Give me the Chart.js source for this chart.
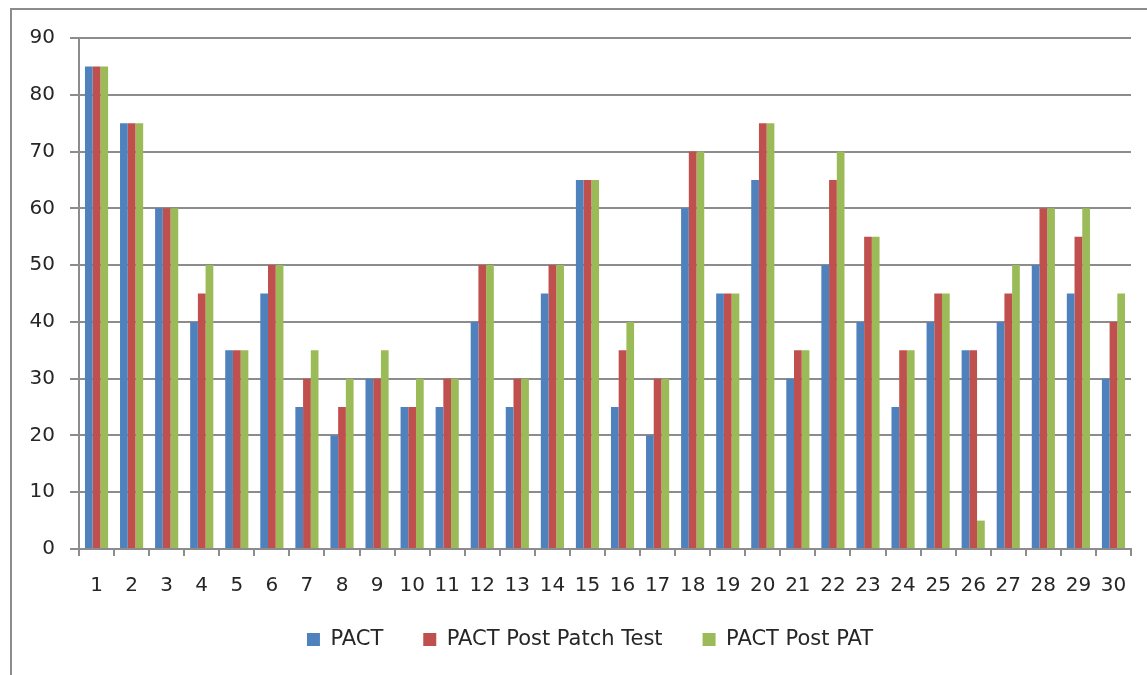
<!DOCTYPE html>
<html lang="en">
  <head>
    <meta charset="UTF-8" />
    <title>PACT</title>
    <script src="https://cdn.jsdelivr.net/npm/chart.js@4.4.1/dist/chart.umd.min.js"></script>
    <style>
      html, body {
        margin: 0;
        padding: 0;
        background: #fff;
        overflow: hidden;
      }
      #frame {
        position: absolute;
        left: 10px;
        top: 8px;
        width: 1200px;
        height: 700px;
        border-left: 2px solid #8c8c8c;
        border-top: 2px solid #8c8c8c;
      }
      #chart {
        position: absolute;
        left: 0;
        top: 0;
      }
    </style>
  </head>
  <body>
    <div id="frame"></div>
    <canvas id="chart" width="1147" height="675"></canvas>

    <script>
      const categories = [
        "1", "2", "3", "4", "5", "6", "7", "8", "9", "10",
        "11", "12", "13", "14", "15", "16", "17", "18", "19", "20",
        "21", "22", "23", "24", "25", "26", "27", "28", "29", "30",
      ];
      const pact = [
        85, 75, 60, 40, 35, 45, 25, 20, 30, 25,
        25, 40, 25, 45, 65, 25, 20, 60, 45, 65,
        30, 50, 40, 25, 40, 35, 40, 50, 45, 30,
      ];
      const pactPatchTest = [
        85, 75, 60, 45, 35, 50, 30, 25, 30, 25,
        30, 50, 30, 50, 65, 35, 30, 70, 45, 75,
        35, 65, 55, 35, 45, 35, 45, 60, 55, 40,
      ];
      const pactPostPat = [
        85, 75, 60, 50, 35, 50, 35, 30, 35, 30,
        30, 50, 30, 50, 65, 40, 30, 70, 45, 75,
        35, 70, 55, 35, 45, 5, 50, 60, 60, 45,
      ];

      const gridGray = "#8c8c8c";
      const textColor = "#262626";
      const fontFamily = "'DejaVu Sans', Arial, sans-serif";

      // legend sits a little right of the plot centre and a bit higher up
      const legendShift = {
        id: "legendShift",
        afterLayout(chart) {
          chart.legend.left += 49;
          chart.legend.top -= 10;
        },
      };

      new Chart(document.getElementById("chart").getContext("2d"), {
        type: "bar",
        data: {
          labels: categories,
          datasets: [
            { label: "PACT", data: pact, backgroundColor: "#4F81BD" },
            { label: "PACT Post Patch Test", data: pactPatchTest, backgroundColor: "#C0504D" },
            { label: "PACT Post PAT", data: pactPostPat, backgroundColor: "#9BBB59" },
          ],
        },
        plugins: [legendShift],
        options: {
          responsive: false,
          animation: false,
          datasets: {
            bar: { categoryPercentage: 0.66, barPercentage: 1.0, borderWidth: 0 },
          },
          layout: {
            padding: { left: 0, right: 16, top: 38, bottom: 5 },
          },
          plugins: {
            tooltip: { enabled: false },
            legend: {
              position: "bottom",
              labels: {
                boxWidth: 13,
                boxHeight: 13,
                padding: 40,
                color: textColor,
                font: { family: fontFamily, size: 21 },
              },
            },
          },
          scales: {
            x: {
              grid: {
                offset: true,
                drawOnChartArea: false,
                drawTicks: true,
                tickLength: 7,
                color: gridGray,
                lineWidth: 2,
              },
              border: { color: gridGray, width: 2 },
              ticks: {
                color: textColor,
                padding: 18,
                maxRotation: 0,
                autoSkip: false,
                font: { family: fontFamily, size: 20 },
              },
              afterFit(scale) {
                scale.height = 50;
              },
            },
            y: {
              min: 0,
              max: 90,
              grid: {
                color: gridGray,
                lineWidth: 2,
                tickLength: 9,
              },
              border: { color: gridGray, width: 2 },
              ticks: {
                stepSize: 10,
                color: textColor,
                padding: 15,
                font: { family: fontFamily, size: 20 },
              },
              afterFit(scale) {
                scale.width = 79;
              },
            },
          },
        },
      });
    </script>
  </body>
</html>
